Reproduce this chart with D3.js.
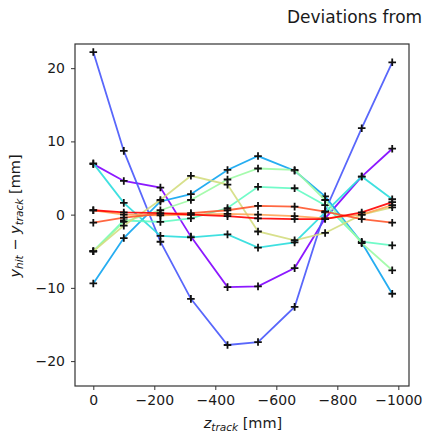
<!DOCTYPE html>
<html>
<head>
<meta charset="utf-8">
<script src="https://cdn.jsdelivr.net/npm/d3@7"></script>
<style>
  body { margin: 0; background: #fff; }
  svg { display: block; font-family: "DejaVu Sans", sans-serif; }
</style>
</head>
<body>
<div id="chart"></div>
<script>
"use strict"

// z position of the planes (mm)
let zTrack = [0, -100, -220, -320, -440, -540, -660, -760, -880, -980];

// y deviations for each track (mm), ordered as in the colour map
let dev0 = [6.9, 4.6, 3.7, -3.0, -9.9, -9.8, -7.3, -0.5, 5.2, 9.0];
let dev1 = [22.2, 8.7, -3.7, -11.5, -17.8, -17.4, -12.6, 0.5, 11.8, 20.8];
let dev2 = [-9.4, -3.2, 1.8, 2.8, 6.1, 8.0, 6.0, 2.5, -3.8, -10.8];
let dev3 = [7.0, 1.6, -2.9, -3.1, -2.7, -4.5, -3.8, 0.3, 5.2, 2.1];
let dev4 = [-5.0, -0.8, -1.0, -0.5, 0.9, 3.8, 3.6, 1.3, -3.7, -4.2];
let dev5 = [-5.0, -1.0, 0.6, 2.0, 4.8, 6.3, 6.1, 2.0, -3.9, -7.6];
let dev6 = [-5.0, -1.5, 2.0, 5.3, 4.1, -2.3, -3.5, -2.5, 0.0, 1.0];
let dev7 = [0.6, 0.0, -0.1, 0.0, 0.1, 0.0, -0.2, -0.5, 0.0, 1.3];
let dev8 = [-1.1, -0.4, 0.1, 0.2, 0.6, 1.2, 1.1, 0.4, -0.6, -1.1];
let dev9 = [0.6, 0.3, 0.2, 0.0, -0.2, -0.5, -0.6, -0.6, 0.3, 1.7];

let series = [dev0, dev1, dev2, dev3, dev4, dev5, dev6, dev7, dev8, dev9];

let xTicks = [0, -200, -400, -600, -800, -1000];
let yTicks = [-20, -10, 0, 10, 20];

// matplotlib "rainbow" colour map
function rainbow(t) {
    let r = Math.abs(2 * t - 0.5);
    let g = Math.sin(Math.PI * t);
    let b = Math.cos(Math.PI * t / 2);
    return d3.rgb(Math.min(1, r) * 255, g * 255, b * 255).formatHex();
}

let width = 424,
    height = 434;

let svg = d3.select("#chart")
    .append("svg")
    .attr("width", width)
    .attr("height", height);

let x = d3.scaleLinear().domain([60, -1035]).range([75, 409]);
let y = d3.scaleLinear().domain([-23.4, 23.3]).range([386, 44]);

let minus = s => String(s).replace("-", "\u2212");

// title, pushed against the right edge like the original
svg.append("text")
    .attr("x", 287)
    .attr("y", 23)
    .style("font-size", "17px")
    .attr("fill", "#1a1a1a")
    .text("Deviations from");

// axes
svg.append("g")
    .attr("transform", "translate(0,386)")
    .call(d3.axisBottom(x).tickValues(xTicks).tickSize(4).tickPadding(5).tickFormat(minus))
    .call(g => g.select(".domain").remove())
    .call(g => g.selectAll("text").style("font-size", "14px").attr("fill", "#1a1a1a").style("font-family", "DejaVu Sans"))
    .call(g => g.selectAll("line").attr("stroke", "#333"));

svg.append("g")
    .attr("transform", "translate(75,0)")
    .call(d3.axisLeft(y).tickValues(yTicks).tickSize(4).tickPadding(6).tickFormat(minus))
    .call(g => g.select(".domain").remove())
    .call(g => g.selectAll("text").style("font-size", "14px").attr("fill", "#1a1a1a").style("font-family", "DejaVu Sans"))
    .call(g => g.selectAll("line").attr("stroke", "#333"));

// data lines
svg.append("clipPath").attr("id", "plot-clip")
    .append("rect").attr("x", 75).attr("y", 44).attr("width", 334).attr("height", 342);

let plot = svg.append("g").attr("clip-path", "url(#plot-clip)");

let line = d3.line()
    .x((d, i) => x(zTrack[i]))
    .y(d => y(d));

series.forEach(function (values, k) {
    let col = rainbow(k / (series.length - 1));
    let g = plot.append("g");
    g.append("path")
        .attr("d", line(values))
        .attr("fill", "none")
        .attr("stroke", col)
        .attr("stroke-width", 1.8)
        .attr("stroke-opacity", 0.9);
    g.selectAll("path.marker")
        .data(values)
        .enter()
        .append("path")
        .attr("class", "marker")
        .attr("d", function (d, i) {
            let px = x(zTrack[i]), py = y(d), s = 3.8;
            return "M" + (px - s) + "," + py + "H" + (px + s) + "M" + px + "," + (py - s) + "V" + (py + s);
        })
        .attr("stroke", "#111")
        .attr("stroke-width", 1.8);
});

// frame
svg.append("rect")
    .attr("x", 75).attr("y", 44)
    .attr("width", 334).attr("height", 342)
    .attr("fill", "none")
    .attr("stroke", "#333")
    .attr("stroke-width", 1.2);

// axis labels with subscripts
let xl = svg.append("text")
    .attr("x", 243)
    .attr("y", 428)
    .attr("text-anchor", "middle")
    .style("font-size", "14.5px")
    .attr("fill", "#1a1a1a");
xl.append("tspan").style("font-style", "italic").text("z");
xl.append("tspan").style("font-style", "italic").style("font-size", "10.5px").attr("dy", 3).text("track");
xl.append("tspan").attr("dy", -3).text(" [mm]");

let yl = svg.append("text")
    .attr("transform", "translate(20,216) rotate(-90)")
    .attr("text-anchor", "middle")
    .style("font-size", "14.5px")
    .attr("fill", "#1a1a1a");
yl.append("tspan").style("font-style", "italic").text("y");
yl.append("tspan").style("font-style", "italic").style("font-size", "10.5px").attr("dy", 3).text("hit");
yl.append("tspan").attr("dy", -3).text(" \u2212 ");
yl.append("tspan").style("font-style", "italic").text("y");
yl.append("tspan").style("font-style", "italic").style("font-size", "10.5px").attr("dy", 3).text("track");
yl.append("tspan").attr("dy", -3).text(" [mm]");
</script>
</body>
</html>
